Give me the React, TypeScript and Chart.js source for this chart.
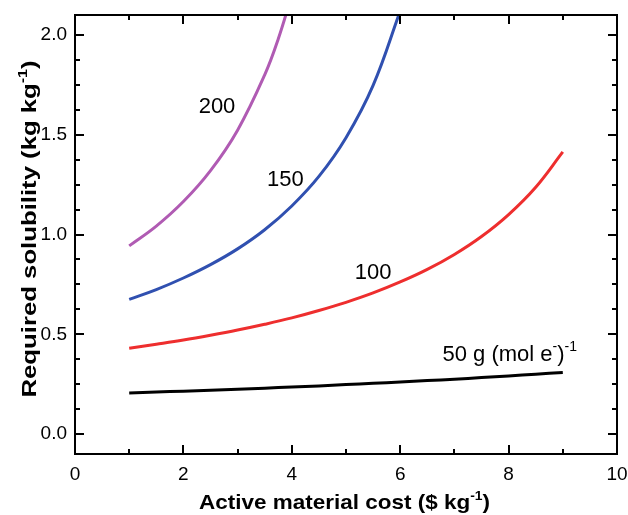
import React, { useEffect, useRef } from 'react';
import { Chart, registerables } from 'chart.js';

Chart.register(...registerables);

// ---- data ----
const cost50 = [1, 1.5, 2, 2.5, 3, 3.5, 4, 4.5, 5, 5.5, 6, 6.5, 7, 7.5, 8, 8.5, 9];
const sol50 = [0.206, 0.211, 0.215, 0.22, 0.225, 0.23, 0.236, 0.241, 0.248, 0.254, 0.261, 0.268, 0.275, 0.283, 0.291, 0.3, 0.309];

const cost100 = [1, 1.5, 2, 2.5, 3, 3.5, 4, 4.5, 5, 5.5, 6, 6.5, 7, 7.5, 8, 8.5, 9];
const sol100 = [0.43, 0.45, 0.471, 0.495, 0.521, 0.55, 0.582, 0.619, 0.66, 0.707, 0.762, 0.825, 0.9, 0.99, 1.1, 1.237, 1.414];

const cost150 = [1, 1.5, 2, 2.5, 3, 3.5, 4, 4.5, 5, 5.5, 6];
const sol150 = [0.675, 0.724, 0.782, 0.849, 0.928, 1.024, 1.143, 1.291, 1.485, 1.747, 2.12];

const cost200 = [1, 1.5, 2, 2.5, 3, 3.5, 3.75, 4];
const sol200 = [0.943, 1.042, 1.165, 1.32, 1.523, 1.8, 1.98, 2.2];

const xTicks = [0, 2, 4, 6, 8, 10];
const xMinorTicks = [1, 3, 5, 7, 9];
const yTicks = [0, 0.5, 1, 1.5, 2];
const yMinorTicks = [0.125, 0.25, 0.375, 0.625, 0.75, 0.875, 1.125, 1.25, 1.375, 1.625, 1.75, 1.875];

type Part = { t: string; sup?: boolean };
const curveLabels: { x: number; y: number; align: 'left' | 'center'; parts: Part[] }[] = [
  { x: 2.62, y: 1.648, align: 'center', parts: [{ t: '200' }] },
  { x: 3.88, y: 1.283, align: 'center', parts: [{ t: '150' }] },
  { x: 5.5, y: 0.819, align: 'center', parts: [{ t: '100' }] },
  { x: 6.78, y: 0.408, align: 'left', parts: [{ t: '50 g (mol e' }, { t: '-', sup: true }, { t: ')' }, { t: '-1', sup: true }] },
];

const xTitle: Part[] = [{ t: 'Active material cost ($ kg' }, { t: '-1', sup: true }, { t: ')' }];
const yTitle: Part[] = [{ t: 'Required solubility (kg kg' }, { t: '-1', sup: true }, { t: ')' }];

const FONT = '"Liberation Sans", Arial, sans-serif';

function pts(xs: number[], ys: number[]) {
  return xs.map((x, i) => ({ x, y: ys[i] }));
}

function drawParts(
  ctx: CanvasRenderingContext2D,
  parts: Part[],
  x: number,
  y: number,
  align: 'left' | 'center',
  size: number,
  bold: boolean,
  targetWidth?: number,
) {
  const w = bold ? 'bold ' : '';
  const main = `${w}${size}px ${FONT}`;
  const sup = `${w}${Math.round(size * 0.62)}px ${FONT}`;
  let total = 0;
  for (const p of parts) {
    ctx.font = p.sup ? sup : main;
    total += ctx.measureText(p.t).width;
  }
  const sx = targetWidth ? targetWidth / total : 1;
  ctx.save();
  ctx.translate(x, y);
  ctx.scale(sx, 1);
  let cx = align === 'center' ? -total / 2 : 0;
  ctx.textAlign = 'left';
  ctx.textBaseline = 'alphabetic';
  for (const p of parts) {
    ctx.font = p.sup ? sup : main;
    ctx.fillText(p.t, cx, p.sup ? -size * 0.42 : 0);
    cx += ctx.measureText(p.t).width;
  }
  ctx.restore();
}

const framePlugin = {
  id: 'frameTicks',
  afterDraw(chart: any) {
    const { ctx, chartArea: a, scales } = chart;
    const xs = scales.x;
    const ys = scales.y;
    ctx.save();
    ctx.strokeStyle = '#000';
    ctx.lineWidth = 2;
    ctx.strokeRect(a.left, a.top, a.right - a.left, a.bottom - a.top);
    ctx.beginPath();
    const major = 9;
    const minor = 5;
    const xt = (v: number, len: number) => {
      const px = Math.round(xs.getPixelForValue(v));
      ctx.moveTo(px, a.bottom);
      ctx.lineTo(px, a.bottom - len);
      ctx.moveTo(px, a.top);
      ctx.lineTo(px, a.top + len);
    };
    const yt = (v: number, len: number) => {
      const py = Math.round(ys.getPixelForValue(v));
      ctx.moveTo(a.left, py);
      ctx.lineTo(a.left + len, py);
      ctx.moveTo(a.right, py);
      ctx.lineTo(a.right - len, py);
    };
    xTicks.forEach((v) => xt(v, major));
    xMinorTicks.forEach((v) => xt(v, minor));
    yTicks.forEach((v) => yt(v, major));
    yMinorTicks.forEach((v) => yt(v, minor));
    ctx.stroke();

    ctx.fillStyle = '#000';
    for (const l of curveLabels) {
      const px = xs.getPixelForValue(l.x);
      const py = ys.getPixelForValue(l.y);
      drawParts(ctx, l.parts, px, py + 8, l.align, 22, false);
    }

    // axis titles
    drawParts(ctx, xTitle, 344.5, 509, 'center', 21, true, 291);
    ctx.translate(36, 229);
    ctx.rotate(-Math.PI / 2);
    drawParts(ctx, yTitle, 0, 0, 'center', 21, true, 337);
    ctx.restore();
  },
};

export default function App() {
  const ref = useRef<HTMLCanvasElement | null>(null);
  useEffect(() => {
    document.body.style.margin = '0';
    const canvas = ref.current!;
    const mk = (label: string, xs: number[], ys: number[], color: string) => ({
      label,
      data: pts(xs, ys),
      borderColor: color,
      backgroundColor: color,
      borderWidth: 3,
      pointRadius: 0,
      tension: 0.4,
      fill: false,
    });
    const chart = new Chart(canvas, {
      type: 'line',
      data: {
        datasets: [
          mk('50', cost50, sol50, '#000000'),
          mk('100', cost100, sol100, '#ee2e2e'),
          mk('150', cost150, sol150, '#3050b0'),
          mk('200', cost200, sol200, '#b05bb3'),
        ],
      },
      plugins: [framePlugin],
      options: {
        animation: false,
        responsive: false,
        maintainAspectRatio: false,
        layout: { padding: { top: 15, right: 11, left: 0, bottom: 0 } },
        plugins: { legend: { display: false }, tooltip: { enabled: false } },
        scales: {
          x: {
            type: 'linear',
            min: 0,
            max: 10,
            afterBuildTicks: (s: any) => {
              s.ticks = xTicks.map((v) => ({ value: v }));
            },
            afterFit: (s: any) => {
              s.height = 61;
              s.paddingLeft = 0;
              s.paddingRight = 0;
            },
            grid: { display: false, drawTicks: false },
            border: { display: false },
            ticks: {
              color: '#000',
              font: { family: FONT, size: 19 },
              padding: 9,
              maxRotation: 0,
              callback: (v: any) => String(v),
            },
          },
          y: {
            type: 'linear',
            min: -0.1,
            max: 2.1,
            afterBuildTicks: (s: any) => {
              s.ticks = yTicks.map((v) => ({ value: v }));
            },
            afterFit: (s: any) => {
              s.width = 75;
              s.paddingTop = 0;
              s.paddingBottom = 0;
            },
            grid: { display: false, drawTicks: false },
            border: { display: false },
            ticks: {
              color: '#000',
              font: { family: FONT, size: 19 },
              padding: 8,
              callback: (v: any) => Number(v).toFixed(1),
            },
          },
        },
      },
    });
    return () => chart.destroy();
  }, []);
  return (
    <div style={{ width: 628, height: 515 }}>
      <canvas ref={ref} width={628} height={515} style={{ display: 'block' }} />
    </div>
  );
}
